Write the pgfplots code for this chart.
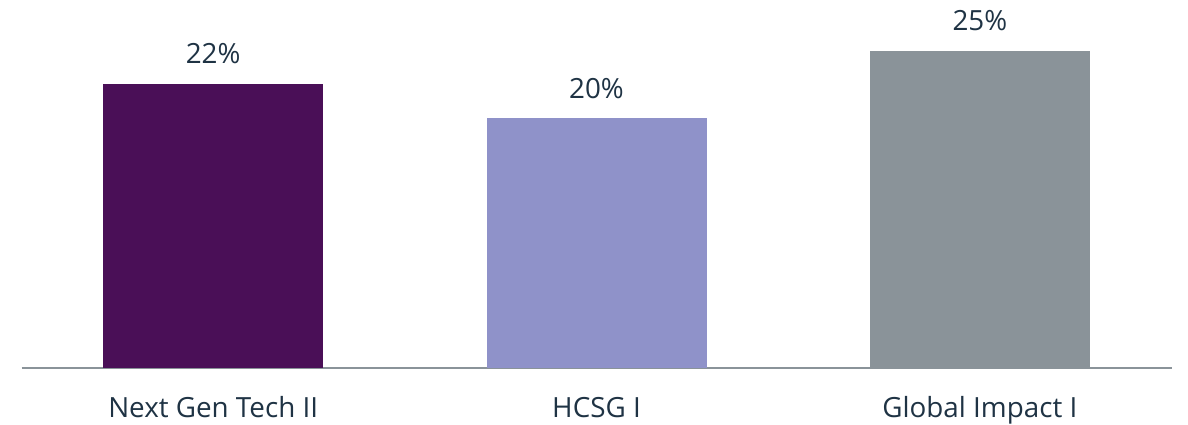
\documentclass[border=0pt]{standalone}
\usepackage{pgfplots}
\pgfplotsset{compat=1.18}
\usetikzlibrary{calc}
\usepackage{fontspec}
\setmainfont{Open Sans}
\definecolor{txt}{HTML}{1F3344}
\definecolor{cA}{HTML}{4A0F57}
\definecolor{cB}{HTML}{8F92C9}
\definecolor{cC}{HTML}{8A9399}
\definecolor{axl}{HTML}{8A9399}
\begin{document}
\begin{tikzpicture}
\begin{axis}[
  scale only axis,
  width=1150pt, height=368pt,
  xmin=-0.5, xmax=2.5,
  ymin=0, ymax=29.02,
  axis y line=none,
  axis x line*=bottom,
  x axis line style={-, draw=axl, line width=1.6pt},
  xtick={0,1,2},
  xticklabels={Next Gen Tech II, HCSG I, Global Impact I},
  major tick length=0pt,
  xticklabel style={font=\fontsize{27.8}{30}\selectfont, text=txt, anchor=base, yshift=-49pt},
  ybar, bar width=220pt, bar shift=0pt,
  nodes near coords,
  point meta=explicit symbolic,
  nodes near coords style={font=\fontsize{27.8}{30}\selectfont, text=txt, anchor=base, yshift=20pt, inner sep=0pt},
  clip=false,
]
\addplot[fill=cA, draw=none] coordinates {(0,22.4) [22\%]};
\addplot[fill=cB, draw=none] coordinates {(1,19.7) [20\%]};
\addplot[fill=cC, draw=none] coordinates {(2,25.0) [25\%]};
\end{axis}
\pgfresetboundingbox
\path[use as bounding box] ($(current axis.south west)+(-21.5pt,-57pt)$) rectangle ($(current axis.north east)+(16.5pt,0pt)$);
\end{tikzpicture}
\end{document}
